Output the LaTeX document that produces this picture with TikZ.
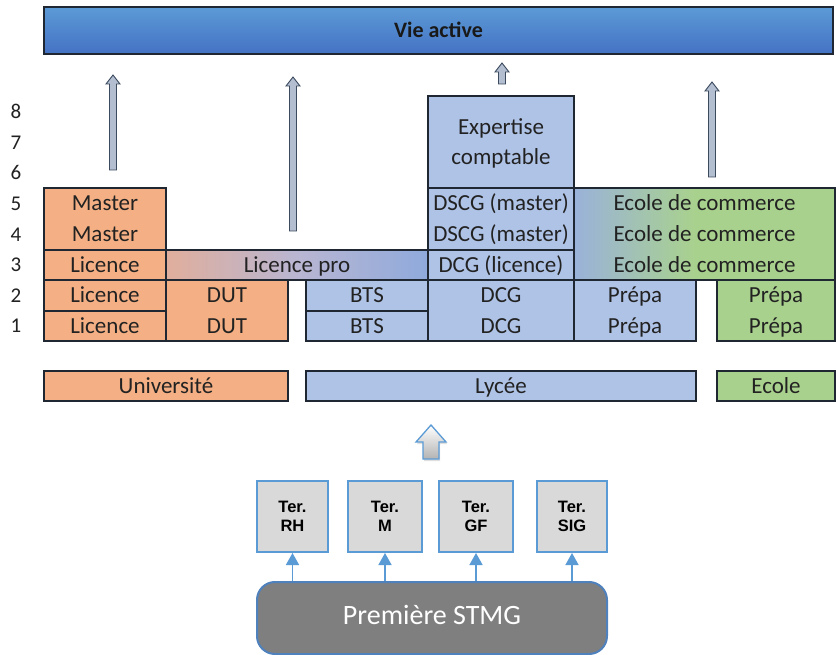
\documentclass[tikz,border=0pt]{standalone}
\usepackage{fontspec}
\setmainfont{Carlito}
\newfontfamily\arialfont{Liberation Sans}
\usetikzlibrary{fit,arrows.meta,shadows}
\definecolor{orng}{HTML}{F4B084}
\definecolor{lblue}{HTML}{AFC3E6}
\definecolor{lgreen}{HTML}{A9D18E}
\definecolor{bord}{HTML}{1E2732}
\definecolor{txt}{HTML}{222222}
\definecolor{bartop}{HTML}{5C9AD6}
\definecolor{barbot}{HTML}{4472C4}
\definecolor{ecblue}{HTML}{9AB2DA}
\definecolor{ecgreen}{HTML}{A9D18E}
\definecolor{lpleft}{HTML}{E0AE9C}
\definecolor{lpmid}{HTML}{B9B6D2}
\definecolor{lpright}{HTML}{8FAADC}
\definecolor{arrfill}{HTML}{B3BED0}
\definecolor{arrline}{HTML}{3C4A5E}
\definecolor{terfill}{HTML}{D9D9D9}
\definecolor{msblue}{HTML}{5B9BD5}
\definecolor{stmgfill}{HTML}{7F7F7F}
\definecolor{stmgline}{HTML}{4F81BD}
\pgfdeclarehorizontalshading{ecshade}{100bp}{color(0bp)=(ecblue); color(25bp)=(ecblue); color(48bp)=(ecgreen); color(100bp)=(ecgreen)}
\pgfdeclarehorizontalshading{lpshade}{100bp}{color(0bp)=(lpleft); color(25bp)=(lpleft); color(50bp)=(lpmid); color(75bp)=(lpright); color(100bp)=(lpright)}
\newcommand{\thinarrow}[3]{%
  \path[thinarr] ({#1-3.5},#3) -- ({#1-3.5},{#2+9}) -- ({#1-7},{#2+9}) -- (#1,#2) -- ({#1+7},{#2+9}) -- ({#1+3.5},{#2+9}) -- ({#1+3.5},#3) -- cycle;}
\begin{document}
\begin{tikzpicture}[x=1pt,y=-1pt,
  cellbox/.style={draw=bord, line width=1.2pt, inner sep=0pt},
  celltext/.style={inner sep=0pt, text=txt, font=\fontsize{23}{26}\selectfont, text height=14.8pt, text depth=0pt},
  numlab/.style={inner sep=0pt, text=txt, font=\fontsize{21}{24}\selectfont, text height=13.5pt, text depth=0pt},
  thinarr/.style={fill=arrfill, draw=arrline, line width=0.9pt, line join=miter},
  terbox/.style={draw=msblue, line width=2pt, fill=terfill, inner sep=0pt},
  tertext/.style={inner sep=0pt, align=center, text=black, font=\arialfont\bfseries\fontsize{16.5}{18.5}\selectfont},
  smallarr/.style={draw=msblue, line width=1.6pt, -{Triangle[width=13pt,length=12pt]}}
]
\useasboundingbox[fill=white] (0,0) rectangle (836,655);

% top bar
\node[fit={(44,7)(833,54)}, draw=bord, line width=1.2pt, inner sep=0pt, top color=bartop, bottom color=barbot] (vie) {};
\node[inner sep=0pt, font=\bfseries\fontsize{22}{24}\selectfont, text=black!90, text height=14pt, text depth=0pt] (viet) at (vie.center) {Vie active};

% numbers
\foreach \n/\y in {8/112,7/142.5,6/173,5/203.5,4/234.5,3/265,2/295.5,1/326}
  \node[numlab] (num\n) at (16,\y) {\n};

% thin arrows
\thinarrow{113}{75}{170}
\thinarrow{293}{77}{231}
\thinarrow{502}{63}{84}
\thinarrow{712}{82}{177}

% left column (university)
\node[cellbox, fill=orng, fit={(44,188)(166,250)}] (master) {};
\node[celltext] (m5) at (105,203.5) {Master};
\node[celltext] (m4) at (105,234.5) {Master};
\node[cellbox, fill=orng, fit={(44,250)(166,280)}] (lic3) {};
\node[celltext] (lic3t) at (lic3.center) {Licence};
\node[cellbox, fill=orng, fit={(44,280)(166,311)}] (lic2) {};
\node[celltext] (lic2t) at (lic2.center) {Licence};
\node[cellbox, fill=orng, fit={(44,311)(166,341)}] (lic1) {};
\node[celltext] (lic1t) at (lic1.center) {Licence};
\node[cellbox, fill=orng, fit={(166,280)(288,341)}] (dut) {};
\node[celltext] (dut2) at (227,295.5) {DUT};
\node[celltext] (dut1) at (227,326) {DUT};

% licence pro
\node[cellbox, shading=lpshade, fit={(166,250)(428,280)}] (lpro) {};
\node[celltext] (lprot) at (lpro.center) {Licence pro};

% BTS
\node[cellbox, fill=lblue, fit={(306,280)(428,311)}] (bts2) {};
\node[celltext] (bts2t) at (bts2.center) {BTS};
\node[cellbox, fill=lblue, fit={(306,311)(428,341)}] (bts1) {};
\node[celltext] (bts1t) at (bts1.center) {BTS};

% DCG column
\node[cellbox, fill=lblue, fit={(428,96)(574,188)}] (expert) {};
\node[celltext] (exp1) at (501,127) {Expertise};
\node[celltext] (exp2) at (501,157) {comptable};
\node[cellbox, fill=lblue, fit={(428,188)(574,250)}] (dscg) {};
\node[celltext] (dscg5) at (501,203.5) {DSCG (master)};
\node[celltext] (dscg4) at (501,234.5) {DSCG (master)};
\node[cellbox, fill=lblue, fit={(428,250)(574,280)}] (dcgl) {};
\node[celltext] (dcglt) at (dcgl.center) {DCG (licence)};
\node[cellbox, fill=lblue, fit={(428,280)(574,341)}] (dcg) {};
\node[celltext] (dcg2) at (501,295.5) {DCG};
\node[celltext] (dcg1) at (501,326) {DCG};

% Prepa blue
\node[cellbox, fill=lblue, fit={(574,280)(696,341)}] (prepab) {};
\node[celltext] (pb2) at (635,295.5) {Prépa};
\node[celltext] (pb1) at (635,326) {Prépa};

% Ecole de commerce
\node[inner sep=0pt, shading=ecshade, fit={(574,188)(835,219)}] (ec5) {};
\node[inner sep=0pt, shading=ecshade, fit={(574,219)(835,250)}] (ec4) {};
\node[inner sep=0pt, shading=ecshade, fit={(574,250)(835,280)}] (ec3) {};
\node[cellbox, fit={(574,188)(835,280)}] (ecbox) {};
\node[celltext] (ec5t) at (ec5.center) {Ecole de commerce};
\node[celltext] (ec4t) at (ec4.center) {Ecole de commerce};
\node[celltext] (ec3t) at (ec3.center) {Ecole de commerce};

% Prepa green
\node[cellbox, fill=lgreen, fit={(717,280)(835,341)}] (prepag) {};
\node[celltext] (pg2) at (776,295.5) {Prépa};
\node[celltext] (pg1) at (776,326) {Prépa};

% bottom institutions
\node[cellbox, fill=orng, fit={(44,371)(288,401)}] (univ) {};
\node[celltext] (univt) at (univ.center) {Université};
\node[cellbox, fill=lblue, fit={(306,371)(696,401)}] (lycee) {};
\node[celltext] (lyceet) at (lycee.center) {Lycée};
\node[cellbox, fill=lgreen, fit={(717,371)(835,401)}] (ecole) {};
\node[celltext] (ecolet) at (ecole.center) {Ecole};

% big arrow
\path[draw=msblue, line width=1.3pt, top color=white, bottom color=black!30, drop shadow={opacity=0.25, shadow xshift=1pt, shadow yshift=-2pt}]
  (423,459) -- (423,442) -- (416,442) -- (431,425) -- (446,442) -- (439,442) -- (439,459) -- cycle;

% Ter boxes
\node[terbox, fit={(257,481)(328,552)}] (rh) {};
\node[tertext] (rht) at (rh.center) {Ter.\\RH};
\node[terbox, fit={(348,481)(422,552)}] (m) {};
\node[tertext] (mt) at (m.center) {Ter.\\M};
\node[terbox, fit={(439,481)(513,552)}] (gf) {};
\node[tertext] (gft) at (gf.center) {Ter.\\GF};
\node[terbox, fit={(537,481)(607,552)}] (sig) {};
\node[tertext] (sigt) at (sig.center) {Ter.\\SIG};

% Premiere STMG
\node[draw=stmgline, line width=2pt, fill=stmgfill, rounded corners=18pt, inner sep=0pt, fit={(257,582)(607,654)}] (stmg) {};
\node[inner sep=0pt, text=white, font=\fontsize{28}{32}\selectfont, text height=18pt, text depth=0pt] (stmgt) at (432,615) {Première STMG};

% small arrows
\foreach \t in {rh,m,gf,sig}
  \draw[smallarr] (\t.south |- stmg.north) -- (\t.south);
\end{tikzpicture}
\end{document}
